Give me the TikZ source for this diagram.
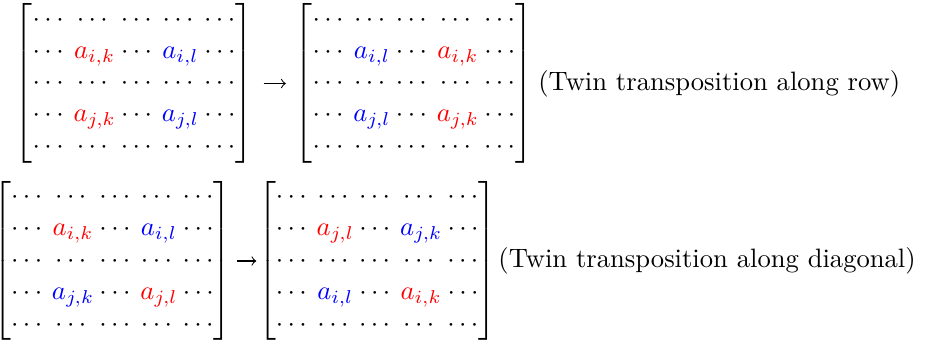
\documentclass[tikz,border=0pt]{standalone}
\usepackage{amsmath}
\usetikzlibrary{positioning}

% A 5x5 matrix of dots with four marked entries.
\newcommand{\twinmatrix}[4]{%
  $\setlength{\arraycolsep}{1pt}%
  \begin{bmatrix}
    \cdots & \cdots & \cdots & \cdots & \cdots\\
    \cdots & #1 & \cdots & #2 & \cdots\\
    \cdots & \cdots & \cdots & \cdots & \cdots\\
    \cdots & #3 & \cdots & #4 & \cdots\\
    \cdots & \cdots & \cdots & \cdots & \cdots
  \end{bmatrix}$}
\newcommand{\redentry}[1]{\textcolor{red}{#1}}
\newcommand{\blueentry}[1]{\textcolor{blue}{#1}}

\begin{document}
\begin{tikzpicture}[
  x=1pt,
  y=1pt,
  mat/.style={inner sep=0pt},
  caption/.style={inner sep=0pt},
  swaparrow/.style 2 args={line width=0.4pt,-to,shorten <=#1,shorten >=#2}
]
  \useasboundingbox (0,0) rectangle (349.2,-129.7);

  % Twin transposition along a row.
  \node[mat] (rowA) at (50.4,-31.4)
    {\twinmatrix{\redentry{a_{i,k}}}{\blueentry{a_{i,l}}}{\redentry{a_{j,k}}}{\blueentry{a_{j,l}}}};
  \node[mat] (rowB) at (155.6,-31.4)
    {\twinmatrix{\blueentry{a_{i,l}}}{\redentry{a_{i,k}}}{\blueentry{a_{j,l}}}{\redentry{a_{j,k}}}};
  \draw[swaparrow={3.7pt}{3.2pt}] (rowA) -- (rowB);
  \node[caption,right=1.6pt of rowB] (rowText) {(Twin transposition along row)};

  % Twin transposition along the diagonal.
  \node[mat] (diagA) at (42.3,-98.1)
    {\twinmatrix{\redentry{a_{i,k}}}{\blueentry{a_{i,l}}}{\blueentry{a_{j,k}}}{\redentry{a_{j,l}}}};
  \node[mat] (diagB) at (141.8,-98.1)
    {\twinmatrix{\redentry{a_{j,l}}}{\blueentry{a_{j,k}}}{\blueentry{a_{i,l}}}{\redentry{a_{i,k}}}};
  \draw[swaparrow={2pt}{0.5pt}] (diagA) -- (diagB);
  \node[caption,right=0.4pt of diagB] (diagText) {(Twin transposition along diagonal)};
\end{tikzpicture}
\end{document}
